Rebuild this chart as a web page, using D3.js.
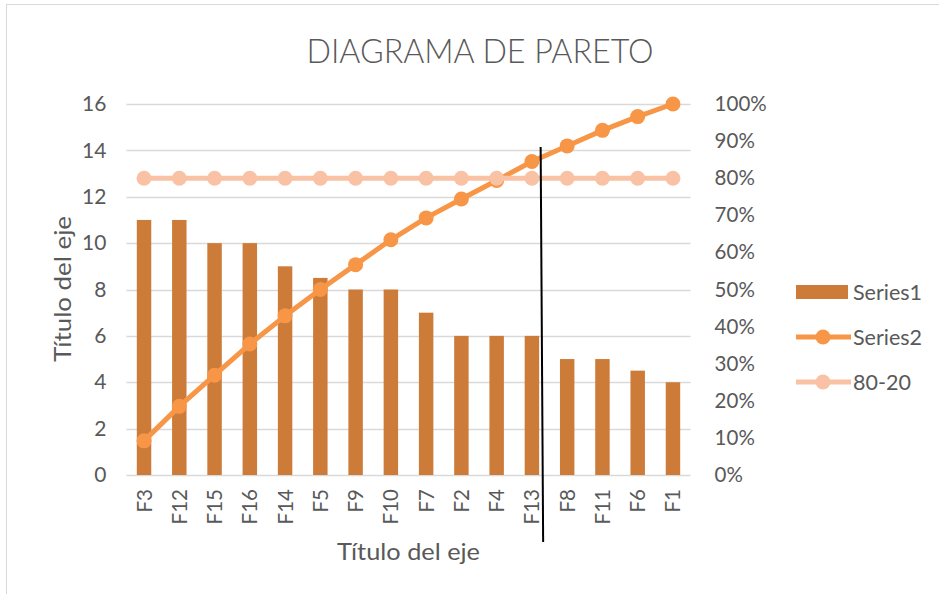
<!DOCTYPE html>
<html>
<head>
<meta charset="utf-8">
<script src="https://cdn.jsdelivr.net/npm/d3@7"></script>
<style>
  body { margin: 0; background: #fff; }
  svg { display: block; font-family: Lato, "Open Sans", sans-serif; }
</style>
</head>
<body>
<div id="chart"></div>
<script>
// data
var categories = ["F3","F12","F15","F16","F14","F5","F9","F10","F7","F2","F4","F13","F8","F11","F6","F1"];
var series1 = [11, 11, 10, 10, 9, 8.5, 8, 8, 7, 6, 6, 6, 5, 5, 4.5, 4];
var series2 = [9.2, 18.5, 26.9, 35.3, 42.9, 50.0, 56.7, 63.4, 69.3, 74.4, 79.4, 84.5, 88.7, 92.9, 96.6, 100];
var line8020 = [80, 80, 80, 80, 80, 80, 80, 80, 80, 80, 80, 80, 80, 80, 80, 80];
var leftTicks = [0, 2, 4, 6, 8, 10, 12, 14, 16];
var rightTicks = [0, 10, 20, 30, 40, 50, 60, 70, 80, 90, 100];
var cutAfter = "F13";

var width = 939, height = 594;
var textColor = "#595959";

var svg = d3.select("#chart").append("svg")
    .attr("width", width)
    .attr("height", height);

// chart border (runs off the right/bottom of the crop)
svg.append("rect")
    .attr("x", 6.5).attr("y", 4.5)
    .attr("width", width + 10).attr("height", height + 10)
    .attr("fill", "#fff")
    .attr("stroke", "#d9d9d9");

var plot = {left: 126.4, right: 690.6, top: 104, bottom: 475};

var x = d3.scaleBand()
    .domain(categories)
    .range([plot.left, plot.right])
    .paddingInner(0.59)
    .paddingOuter(0.295);

var yL = d3.scaleLinear().domain([0, 16]).range([plot.bottom, plot.top]);
var yR = d3.scaleLinear().domain([0, 100]).range([plot.bottom, plot.top]);

var cx = function(c) { return x(c) + x.bandwidth() / 2; };

// title
svg.append("text")
    .attr("x", 480).attr("y", 63)
    .attr("text-anchor", "middle")
    .attr("fill", textColor)
    .attr("font-size", 33)
    .attr("font-weight", 300)
    .attr("textLength", 347)
    .attr("lengthAdjust", "spacingAndGlyphs")
    .text("DIAGRAMA DE PARETO");

// gridlines
svg.append("g")
  .selectAll("line")
  .data(leftTicks)
  .join("line")
    .attr("x1", plot.left).attr("x2", plot.right)
    .attr("y1", d => Math.round(yL(d)) + 0.5)
    .attr("y2", d => Math.round(yL(d)) + 0.5)
    .attr("stroke", "#d9d9d9")
    .attr("stroke-width", 1.3);

// left axis
var axL = svg.append("g")
    .attr("transform", "translate(" + plot.left + ",0)")
    .call(d3.axisLeft(yL).tickValues(leftTicks).tickSize(0).tickPadding(20));
axL.select(".domain").remove();
axL.selectAll("text")
    .attr("fill", textColor)
    .attr("font-size", 21)
    .attr("font-family", "Lato, sans-serif");

// right axis
var axR = svg.append("g")
    .attr("transform", "translate(" + plot.right + ",0)")
    .call(d3.axisRight(yR).tickValues(rightTicks).tickSize(0).tickPadding(24).tickFormat(d => d + "%"));
axR.select(".domain").remove();
axR.selectAll("text")
    .attr("fill", textColor)
    .attr("font-size", 20.5)
    .attr("font-family", "Lato, sans-serif");

// bottom category labels
var axB = svg.append("g")
    .attr("transform", "translate(0," + plot.bottom + ")")
    .call(d3.axisBottom(x).tickSize(0));
axB.select(".domain").remove();
axB.selectAll("text")
    .attr("fill", textColor)
    .attr("font-size", 20.5)
    .attr("font-family", "Lato, sans-serif")
    .attr("text-anchor", "end")
    .attr("dy", null)
    .attr("y", 0)
    .attr("transform", "translate(7.5,14) rotate(-90)");

// bars
svg.append("g")
  .selectAll("rect")
  .data(series1)
  .join("rect")
    .attr("x", (d, i) => x(categories[i]))
    .attr("y", d => yL(d))
    .attr("width", x.bandwidth())
    .attr("height", d => yL(0) - yL(d))
    .attr("fill", "#cd7b39");

// Series2 cumulative line
svg.append("path")
    .datum(series2)
    .attr("fill", "none")
    .attr("stroke", "#f79646")
    .attr("stroke-width", 5)
    .attr("stroke-linejoin", "round")
    .attr("d", d3.line().x((d, i) => cx(categories[i])).y(d => yR(d)));
svg.append("g")
  .selectAll("circle")
  .data(series2)
  .join("circle")
    .attr("cx", (d, i) => cx(categories[i]))
    .attr("cy", d => yR(d))
    .attr("r", 7.5)
    .attr("fill", "#f79646");

// 80-20 line
svg.append("path")
    .datum(line8020)
    .attr("fill", "none")
    .attr("stroke", "#f9c2a4")
    .attr("stroke-width", 5)
    .attr("d", d3.line().x((d, i) => cx(categories[i])).y(d => yR(d)));
svg.append("g")
  .selectAll("circle")
  .data(line8020)
  .join("circle")
    .attr("cx", (d, i) => cx(categories[i]))
    .attr("cy", d => yR(d))
    .attr("r", 7.5)
    .attr("fill", "#f9c2a4");

// hand drawn cut line after F13
var cutX = x(cutAfter) + x.bandwidth();
svg.append("line")
    .attr("x1", cutX + 1.5).attr("y1", yL(14.15))
    .attr("x2", cutX + 4).attr("y2", yL(0) + 67)
    .attr("stroke", "#000")
    .attr("stroke-width", 2);

// axis titles
svg.append("text")
    .attr("x", (plot.left + plot.right) / 2).attr("y", 560)
    .attr("text-anchor", "middle")
    .attr("fill", textColor)
    .attr("font-size", 24)
    .attr("textLength", 143)
    .attr("lengthAdjust", "spacingAndGlyphs")
    .text("Título del eje");
svg.append("text")
    .attr("transform", "translate(71,289) rotate(-90)")
    .attr("text-anchor", "middle")
    .attr("fill", textColor)
    .attr("font-size", 24)
    .attr("textLength", 146)
    .attr("lengthAdjust", "spacingAndGlyphs")
    .text("Título del eje");

// legend
var legend = svg.append("g");
legend.append("rect")
    .attr("x", 796).attr("y", 285).attr("width", 52).attr("height", 14)
    .attr("fill", "#cd7b39");
var legendLines = [
  {name: "Series2", color: "#f79646", y: 337},
  {name: "80-20", color: "#f9c2a4", y: 382}
];
legendLines.forEach(function(l) {
  legend.append("line")
      .attr("x1", 796).attr("x2", 851)
      .attr("y1", l.y).attr("y2", l.y)
      .attr("stroke", l.color).attr("stroke-width", 5);
  legend.append("circle")
      .attr("cx", 823).attr("cy", l.y).attr("r", 7.5)
      .attr("fill", l.color);
});
var legendNames = [{t: "Series1", y: 292}, {t: "Series2", y: 337}, {t: "80-20", y: 382}];
legend.selectAll("text.lbl")
  .data(legendNames)
  .join("text")
    .attr("class", "lbl")
    .attr("x", 853).attr("y", d => d.y)
    .attr("dy", "0.35em")
    .attr("fill", textColor)
    .attr("font-size", 21.5)
    .text(d => d.t);
</script>
</body>
</html>
